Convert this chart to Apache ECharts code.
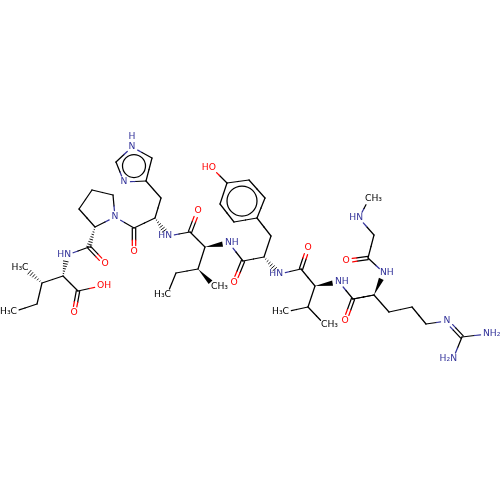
<!DOCTYPE html>
<html><head><meta charset="utf-8">
<style>html,body{margin:0;padding:0;background:#fff}#c{width:500px;height:500px}</style>
<script src="https://cdn.jsdelivr.net/npm/echarts@6/dist/echarts.min.js"></script>
</head><body><div id="c"></div>
<script>
// Atom positions (index = atom number)
const atomX = [24.5,42,63,37,13,78,101,74,67,89,105,95,79,92,113,115,134,134,155,161,146,124,116,132,152,168,190,198,205,229,198,215,176,167,243,234,264,271,257,265,249,227,220,234,212,279,301,308,315,339,308,285,325,353,345,374,384,368,346,374,359,369,389,412,426,447,462,487,453];
const atomY = [268,283,276,304,312,291,286,313,255,247,264,227,209,190,195,217,228,252,218,198,181,182,162,147,158,236,232,211,247,243,269,287,273,295,261,283,257,236,218,198,180,183,204,222,168,274,269,248,286,282,307,312,325,299,321,295,273,258,261,235,218,199,312,307,324,321,337,334,359];
// Labelled atoms
const labelAtom = [0,4,6,7,8,10,15,17,21,23,25,27,29,31,33,35,44,45,47,49,51,52,54,56,58,60,61,65,67,68];
const labelText = ['H₃C','H₃C','OH','O','HN','O','N','O','N','N','HN','O','NH','CH₃','H₃C','O','HO','HN','O','NH','H₃C','CH₃','O','NH','O','HN','CH₃','N','NH₂','H₂N'];
const labelKind = ['r','r','l','c','r','c','c','c','c','c','r','c','l','l','r','c','r','r','c','l','r','l','c','l','c','r','l','c','l','r'];
const labelElem = ['C','C','O','O','N','O','N','O','N','N','N','O','N','C','C','O','O','N','O','N','C','C','O','N','O','N','C','N','N','N'];
// Bonds: from, to, type (s single, d double, w wedge, h hash)
const bondFrom = [1,1,2,3,2,5,5,2,8,9,11,11,12,13,14,15,15,16,16,18,19,20,20,21,22,23,24,18,25,26,26,28,28,30,30,32,29,34,34,36,36,37,38,39,40,41,42,43,41,45,46,46,48,48,50,50,49,53,53,55,55,57,57,57,59,60,55,62,63,64,65,66,66];
const bondTo   = [0,3,1,4,5,6,7,8,9,10,9,12,13,14,15,11,16,17,18,19,20,21,24,22,23,24,24,25,26,27,28,29,30,31,32,33,34,35,36,37,45,38,39,40,41,42,43,38,44,46,47,48,49,50,51,52,53,54,55,53,56,56,58,59,60,61,62,63,64,65,66,67,68];
const bondType = ['h','s','s','s','s','s','d','h','s','d','h','s','s','s','s','s','s','d','s','s','s','s','s','s','s','s','s','h','s','d','s','w','s','w','s','s','s','d','s','s','h','s','s','s','s','s','s','s','s','s','d','s','w','s','s','s','s','d','s','s','w','s','d','s','s','s','s','s','s','s','d','s','s'];
// Aromatic ring circles
const ringX = [134,242];
const ringY = [166,201];
const ringR = [11.5,15];

const elemColor = {C:'#000000',N:'#33339a',O:'#ff0000'};
const atomLabelled = {}, atomElem = {};
labelAtom.forEach((a,i)=>{atomLabelled[a]=true;atomElem[a]=labelElem[i];});
const LW = 1.25;
function colorOf(a){return elemColor[atomElem[a]||'C'];}

function renderBond(params, api){
  const a = api.value(0), b = api.value(1), t = bondType[params.dataIndex];
  const P = api.coord([atomX[a],atomY[a]]), Q = api.coord([atomX[b],atomY[b]]);
  const dx=Q[0]-P[0], dy=Q[1]-P[1], L=Math.hypot(dx,dy), ux=dx/L, uy=dy/L, nx=-uy, ny=ux;
  const sa = atomLabelled[a]?6.5:0, sb = atomLabelled[b]?6.5:0;
  const A=[P[0]+ux*sa,P[1]+uy*sa], B=[Q[0]-ux*sb,Q[1]-uy*sb];
  const M=[(P[0]+Q[0])/2,(P[1]+Q[1])/2];
  const kids=[];
  const seg=(p,q,c)=>kids.push({type:'line',shape:{x1:p[0],y1:p[1],x2:q[0],y2:q[1]},style:{stroke:c,lineWidth:LW,lineCap:'round'}});
  const split=(off)=>{
    const o=[nx*off,ny*off];
    const p=[A[0]+o[0],A[1]+o[1]],q=[B[0]+o[0],B[1]+o[1]],m=[M[0]+o[0],M[1]+o[1]];
    seg(p,m,colorOf(a)); seg(m,q,colorOf(b));
  };
  if(t==='s') split(0);
  else if(t==='d'){split(1.7);split(-1.7);}
  else if(t==='w'){
    const w=2.6;
    kids.push({type:'polygon',shape:{points:[P,[B[0]+nx*w,B[1]+ny*w],[B[0]-nx*w,B[1]-ny*w]]},style:{fill:'#000'}});
  } else {
    const D=Math.hypot(B[0]-P[0],B[1]-P[1]), n=Math.max(4,Math.round(D/2.6));
    for(let i=1;i<=n;i++){
      const f=i/n,w=0.3+2.5*f,c=[P[0]+(B[0]-P[0])*f,P[1]+(B[1]-P[1])*f];
      kids.push({type:'line',shape:{x1:c[0]+nx*w,y1:c[1]+ny*w,x2:c[0]-nx*w,y2:c[1]-ny*w},style:{stroke:'#000',lineWidth:0.9}});
    }
  }
  return {type:'group',children:kids};
}
function renderRing(params, api){
  const c=api.coord([api.value(0),api.value(1)]);
  return {type:'circle',shape:{cx:c[0],cy:c[1],r:api.value(2)},style:{fill:'none',stroke:'#000',lineWidth:LW}};
}
function renderLabel(params, api){
  const i=params.dataIndex, a=labelAtom[i], k=labelKind[i];
  const c=api.coord([atomX[a],atomY[a]]);
  const x=k==='l'?c[0]-4:k==='r'?c[0]+4:c[0];
  const f='9.2px "DejaVu Sans"';
  const kids=[{type:'text',x:x,y:c[1],style:{text:labelText[i],fill:elemColor[labelElem[i]],font:f,textAlign:k==='l'?'left':k==='r'?'right':'center',textVerticalAlign:'middle'}}];
  if(a===23) kids.push({type:'text',x:c[0],y:c[1]-10,style:{text:'H',fill:elemColor.N,font:f,textAlign:'center',textVerticalAlign:'middle'}});
  return {type:'group',children:kids};
}

const chart=echarts.init(document.getElementById('c'),null,{renderer:'canvas'});
chart.setOption({
  animation:false,
  backgroundColor:'#ffffff',
  grid:{left:0,right:0,top:0,bottom:0},
  xAxis:{type:'value',min:0,max:500,show:false},
  yAxis:{type:'value',min:0,max:500,inverse:true,show:false},
  series:[
    {type:'custom',coordinateSystem:'cartesian2d',silent:true,clip:false,renderItem:renderBond,encode:{x:[],y:[]},data:bondFrom.map((f,i)=>[f,bondTo[i]])},
    {type:'custom',coordinateSystem:'cartesian2d',silent:true,clip:false,renderItem:renderRing,encode:{x:0,y:1},data:ringX.map((x,i)=>[x,ringY[i],ringR[i]])},
    {type:'custom',coordinateSystem:'cartesian2d',silent:true,clip:false,renderItem:renderLabel,encode:{x:[],y:[]},data:labelAtom.map(a=>[a])}
  ]
});
</script></body></html>
